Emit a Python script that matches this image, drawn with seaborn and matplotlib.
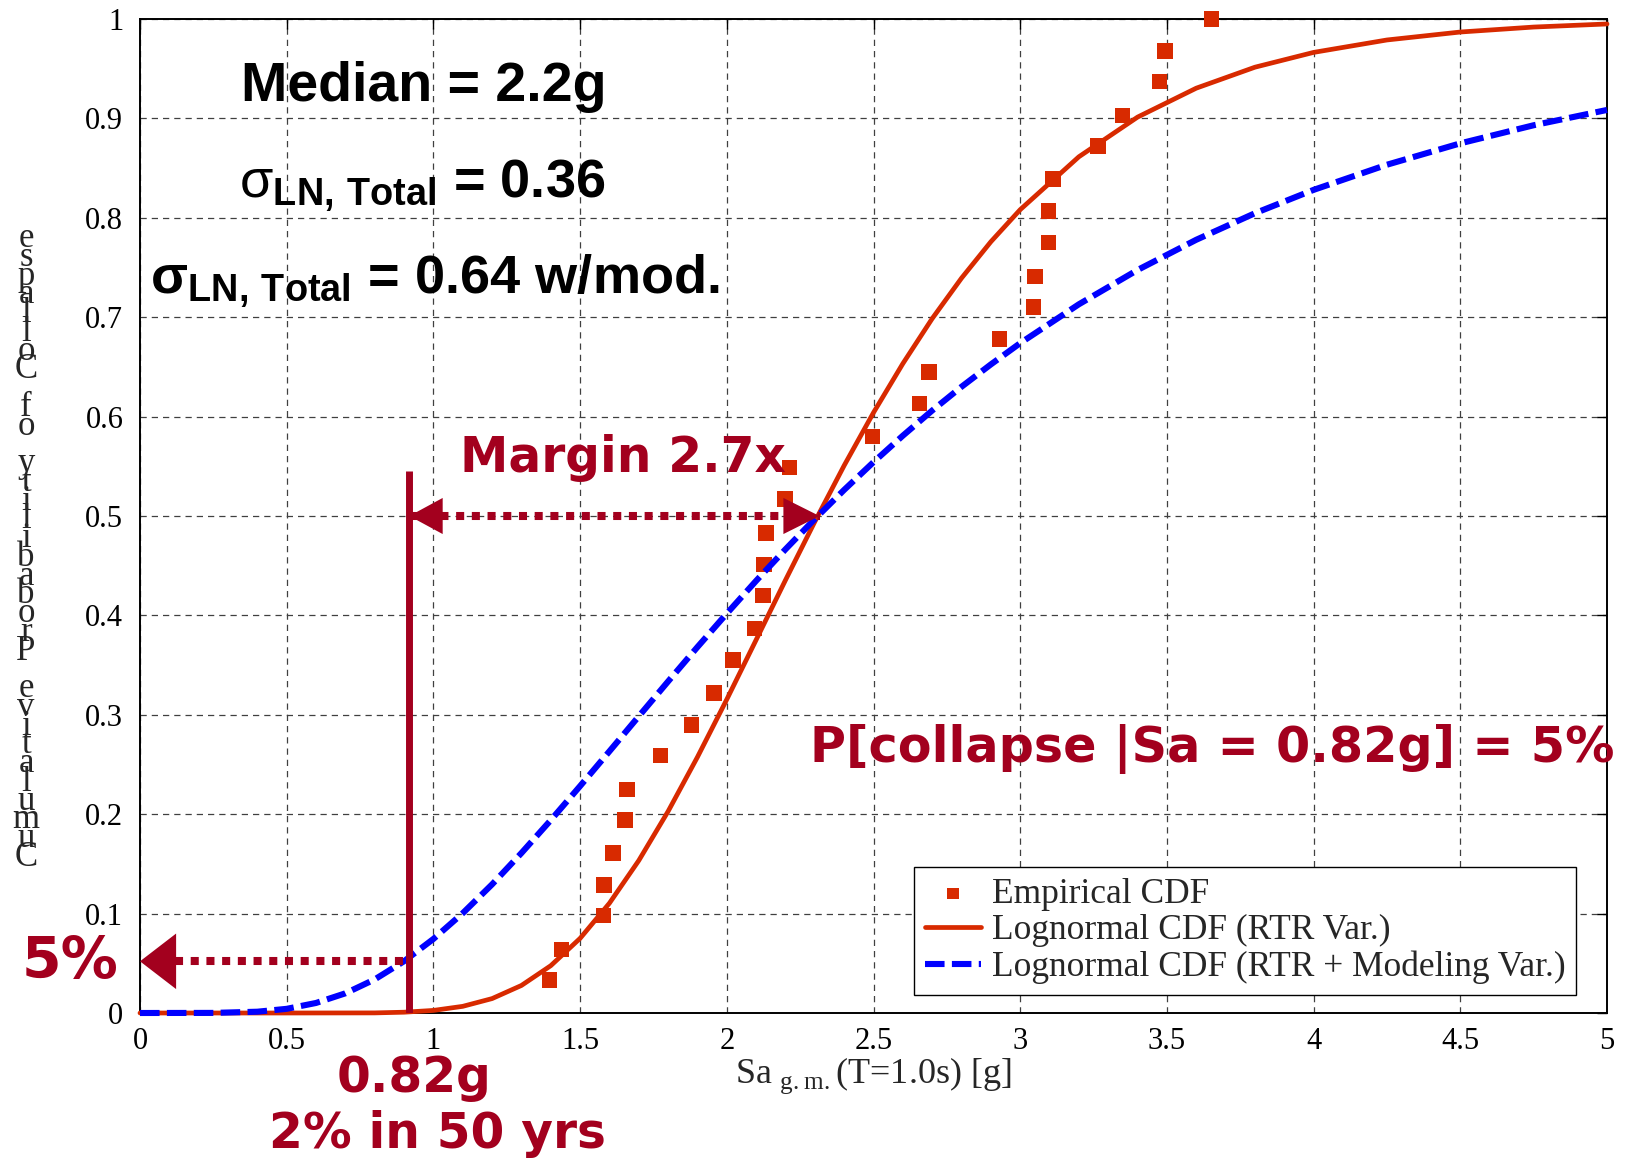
import matplotlib
matplotlib.use('Agg')
import matplotlib.pyplot as plt
import seaborn as sns
from matplotlib import font_manager

# Empirical collapse intensities
sa_emp = [1.395, 1.436, 1.579, 1.582, 1.613, 1.653, 1.659, 1.774, 1.880, 1.956,
          2.021, 2.095, 2.123, 2.127, 2.133, 2.199, 2.214, 2.496, 2.657, 2.689,
          2.930, 3.046, 3.050, 3.096, 3.096, 3.111, 3.266, 3.348, 3.474, 3.493,
          3.652]
p_emp = [0.033, 0.064, 0.098, 0.129, 0.161, 0.194, 0.225, 0.259, 0.290, 0.322,
         0.355, 0.387, 0.420, 0.451, 0.483, 0.517, 0.549, 0.580, 0.613, 0.645,
         0.678, 0.710, 0.741, 0.775, 0.807, 0.839, 0.872, 0.903, 0.937, 0.968,
         1.000]

# Lognormal CDF, RTR variability only
sa_rtr = [0, 0.5, 0.8, 0.9, 1.0, 1.1, 1.2, 1.3, 1.4, 1.5, 1.6, 1.7, 1.8, 1.9,
          2.0, 2.1, 2.2, 2.3, 2.4, 2.5, 2.6, 2.7, 2.8, 2.9, 3.0, 3.2, 3.4, 3.6,
          3.8, 4.0, 4.25, 4.5, 4.75, 5.0]
p_rtr = [0, 0, 0.0001, 0.0008, 0.0026, 0.0067, 0.0145, 0.0277, 0.0476, 0.0751,
         0.1105, 0.1534, 0.2029, 0.2575, 0.3155, 0.3754, 0.4355, 0.4943, 0.5508,
         0.6040, 0.6533, 0.6986, 0.7393, 0.7759, 0.8082, 0.8614, 0.9013, 0.9304,
         0.9515, 0.9664, 0.9789, 0.9869, 0.9919, 0.9950]

# Lognormal CDF, RTR + modeling variability
sa_mod = [0, 0.25, 0.4, 0.5, 0.6, 0.7, 0.8, 0.9, 1.0, 1.1, 1.2, 1.3, 1.4, 1.5,
          1.6, 1.7, 1.8, 1.9, 2.0, 2.1, 2.2, 2.3, 2.4, 2.5, 2.6, 2.7, 2.8, 2.9,
          3.0, 3.2, 3.4, 3.6, 3.8, 4.0, 4.25, 4.5, 4.75, 5.0]
p_mod = [0, 0.0001, 0.0013, 0.0042, 0.0101, 0.0198, 0.0338, 0.0521, 0.0745,
         0.1004, 0.1294, 0.1609, 0.1940, 0.2283, 0.2633, 0.2985, 0.3336, 0.3682,
         0.4019, 0.4348, 0.4665, 0.4970, 0.5263, 0.5542, 0.5808, 0.6061, 0.6300,
         0.6525, 0.6739, 0.7130, 0.7475, 0.7779, 0.8046, 0.8281, 0.8534, 0.8749,
         0.8931, 0.9085]

x_ticks = [0, 0.5, 1, 1.5, 2, 2.5, 3, 3.5, 4, 4.5, 5]
x_tick_labels = ['0', '0.5', '1', '1.5', '2', '2.5', '3', '3.5', '4', '4.5', '5']
y_ticks = [0, 0.1, 0.2, 0.3, 0.4, 0.5, 0.6, 0.7, 0.8, 0.9, 1]
y_tick_labels = ['0', '0.1', '0.2', '0.3', '0.4', '0.5', '0.6', '0.7', '0.8', '0.9', '1']

# annotation anchors
sa_mce = 0.918      # vertical marker line (0.82g, 2% in 50 yrs)
p_mce = 0.052       # collapse probability at that level
sa_med = 2.316      # where both CDFs cross 0.5
p_med = 0.5
line_top = 0.545

RED = '#D82A00'
BLUE = '#0000FF'
DARK = '#A3001E'


def pick(names):
    have = {f.name for f in font_manager.fontManager.ttflist}
    for n in names:
        if n in have:
            return n
    return 'DejaVu Sans'


SANS = pick(['Liberation Sans', 'Arial', 'DejaVu Sans'])
WIDE = pick(['DejaVu Sans'])
SERIF = pick(['Liberation Serif', 'DejaVu Serif'])

sns.set_style('white')
plt.rcParams['font.family'] = [SERIF, 'DejaVu Serif']
plt.rcParams['mathtext.fontset'] = 'custom'
plt.rcParams['mathtext.rm'] = SANS

fig = plt.figure(figsize=(16.29, 11.59), dpi=100)
fig.subplots_adjust(left=140 / 1629, right=1607 / 1629,
                    bottom=1 - 1013 / 1159, top=1 - 19 / 1159)
ax = fig.add_subplot(111)

sns.scatterplot(x=sa_emp, y=p_emp, ax=ax, marker='s', s=125, color=RED,
                edgecolor='none', linewidth=0, label='Empirical CDF',
                clip_on=False, zorder=3)
sns.lineplot(x=sa_rtr, y=p_rtr, ax=ax, color=RED, linewidth=3.4,
             label='Lognormal CDF (RTR Var.)', clip_on=False, zorder=4)
sns.lineplot(x=sa_mod, y=p_mod, ax=ax, color=BLUE, linewidth=4.4,
             linestyle=(0, (3.2, 1.2)),
             label='Lognormal CDF (RTR + Modeling Var.)', clip_on=False, zorder=5)

ax.set_xlim(0, 5)
ax.set_ylim(0, 1)
ax.set_xticks(x_ticks)
ax.set_xticklabels(x_tick_labels)
ax.set_yticks(y_ticks)
ax.set_yticklabels(y_tick_labels)
ax.grid(True, color='#404040', linestyle=(0, (5, 4)), linewidth=0.9)
ax.tick_params(direction='in', top=True, right=True, length=7, width=1,
               labelsize=22, colors='black')
ax.tick_params(axis='x', pad=10)
ax.tick_params(axis='y', pad=12)
for lab in ax.get_xticklabels() + ax.get_yticklabels():
    lab.set_family(SERIF)
for sp in ax.spines.values():
    sp.set_color('black')
    sp.set_linewidth(1.4)

ax.set_xlabel(r'Sa$_\mathregular{\ g.m.}$(T=1.0s) [g]', fontsize=26,
              family=SERIF, labelpad=0)
ax.set_ylabel('')

# y-label exported as upright letters stacked bottom-to-top
ylab = 'Cumulative Probability of Collapse'
fig.text(26 / 1629, 1 - 548 / 1159, '\n'.join(reversed(ylab)),
         ha='center', va='center', multialignment='center',
         fontsize=25, family=SERIF, linespacing=0.43)

leg = ax.legend(loc='lower right', bbox_to_anchor=(0.979, 0.018),
                borderaxespad=0, frameon=True, fancybox=False, framealpha=1,
                edgecolor='black', prop={'family': SERIF, 'size': 25.5},
                handlelength=1.6, handletextpad=0.3, markerscale=0.75,
                labelspacing=0.1, borderpad=0.3)
leg.get_frame().set_linewidth(1.0)

# guide lines and arrows
ax.plot([sa_mce, sa_mce], [0, line_top], color=DARK, linewidth=5,
        solid_capstyle='butt', zorder=6)
ax.plot([sa_mce, sa_med], [p_med, p_med], color=DARK, linewidth=5.8,
        linestyle=(0, (1, 0.95)), dash_capstyle='butt', zorder=6)
ax.plot([0.12, sa_mce], [p_mce, p_mce], color=DARK, linewidth=5.8,
        linestyle=(0, (1, 0.95)), dash_capstyle='butt', zorder=6)
head = dict(mutation_scale=20, lw=0, color=DARK, shrinkA=0, shrinkB=0)
ax.annotate('', xy=(sa_mce, p_med), xytext=(sa_med, p_med), zorder=7,
            arrowprops=dict(arrowstyle='-|>,head_length=1.2,head_width=0.65', **head))
ax.annotate('', xy=(sa_med, p_med), xytext=(sa_mce, p_med), zorder=7,
            arrowprops=dict(arrowstyle='-|>,head_length=1.3,head_width=0.65', **head))
ax.annotate('', xy=(0.0, p_mce), xytext=(sa_mce, p_mce), zorder=7,
            annotation_clip=False,
            arrowprops=dict(arrowstyle='-|>,head_length=1.3,head_width=1.0', **head))

# black statistics text
ax.text(0.966, 0.918, 'Median = 2.2g', ha='center', va='baseline',
        fontsize=40, family=SANS, weight='bold', color='black')
ax.text(0.961, 0.821, r'$\mathrm{σ}$$_\mathregular{LN{,}\ Total}$ = 0.36',
        ha='center', va='baseline', fontsize=39, family=SANS, weight='bold',
        color='black')
ax.text(0.034, 0.724, r'σ$_\mathregular{LN{,}\ Total}$ = 0.64 w/mod.',
        ha='left', va='baseline', fontsize=39, family=SANS, weight='bold',
        color='black')

# dark red annotation text
ax.text(1.647, 0.544, 'Margin 2.7x', ha='center', va='baseline',
        fontsize=35, family=WIDE, weight='bold', color=DARK)
ax.text(3.655, 0.253, 'P[collapse |Sa = 0.82g] = 5%', ha='center',
        va='baseline', fontsize=35.5, family=WIDE, weight='bold', color=DARK)
ax.text(-0.24, 0.035, '5%', ha='center', va='baseline', fontsize=41,
        family=WIDE, weight='bold', color=DARK)
ax.text(0.934, -0.079, '0.82g', ha='center', va='baseline', fontsize=35,
        family=WIDE, weight='bold', color=DARK)
ax.text(1.013, -0.136, '2% in 50 yrs', ha='center', va='baseline',
        fontsize=35, family=WIDE, weight='bold', color=DARK)

fig.savefig('out.png', dpi=100)
